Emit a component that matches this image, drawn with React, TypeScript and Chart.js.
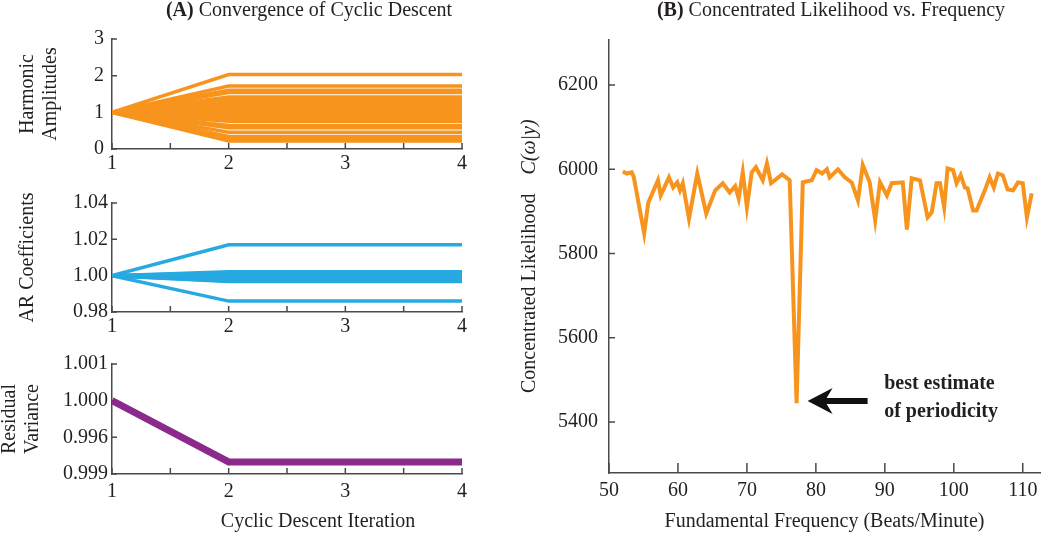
import React, { useEffect, useRef } from 'react';
import { Chart, registerables } from 'chart.js';

Chart.register(...registerables);

const W = 1050;
const H = 535;
const FONT = "'Liberation Serif', 'Times New Roman', serif";
const TEXT = '#231f20';
const AXIS = '#4a4a4a';
const ORANGE = '#f7941d';
const BLUE = '#27a9e1';
const PURPLE = '#8b2a8c';

// ---- Panel A data ----
const iterations = [1, 2, 3, 4];
const iterationTicks = [1, 2, 3, 4];
const iterationMinorTicks = [1.5, 2.5, 3.5];

const harmonicStart = 1;
const harmonicFinal = [
  2.03, 1.72, 1.6, 1.54, 1.42, 1.36, 1.3, 1.24, 1.18, 1.12, 1.06, 1.0,
  0.94, 0.88, 0.82, 0.76, 0.64, 0.58, 0.46, 0.34, 0.28, 0.22,
];
const harmonicTicks = [0, 1, 2, 3];
const harmonicTickLabels = ['0', '1', '2', '3'];

const arStart = 1;
const arFinal = [
  1.017, 1.0021, 1.0016, 1.0011, 1.0006, 1.0001, 0.9996, 0.9991, 0.9986,
  0.9981, 0.9976, 0.9971, 0.9968, 0.986,
];
const arTicks = [0.98, 1.0, 1.02, 1.04];
const arTickLabels = ['0.98', '1.00', '1.02', '1.04'];

const residualValues = [1.0, 0.99833, 0.99833, 0.99833];
const residualTicks = [0.998, 0.999, 1.0, 1.001];
const residualTickLabels = ['0.999', '0.996', '1.000', '1.001'];

// ---- Panel B data ----
const freqs = [
  52.0, 52.6, 53.3, 53.6, 55.1, 55.7, 57.1, 57.5, 58.7, 59.3, 59.9, 60.3, 60.7,
  61.6, 62.8, 64.1, 65.4, 66.5, 67.5, 68.3, 68.8, 69.4, 70.0, 70.7, 71.3, 72.3,
  72.9, 73.5, 75.1, 75.8, 76.2, 77.2, 78.1, 79.4, 80.1, 80.9, 81.6, 82.0, 83.2,
  84.2, 85.2, 86.1, 86.8, 87.8, 88.6, 89.3, 90.3, 91.0, 92.6, 93.2, 93.9, 95.1,
  96.2, 96.8, 97.5, 98.0, 98.6, 99.1, 99.9, 100.4, 101.0, 101.6, 102.0, 102.8,
  103.3, 104.5, 105.2, 105.8, 106.4, 107.1, 107.8, 108.6, 109.3, 110.0, 110.6,
  111.3,
];
const likelihood = [
  5995, 5990, 5993, 5981, 5848, 5921, 5974, 5938, 5981, 5957, 5969, 5950, 5967,
  5883, 5990, 5895, 5950, 5967, 5945, 5960, 5931, 5993, 5910, 5993, 6005, 5974,
  6014, 5967, 5988, 5979, 5974, 5445, 5969, 5974, 5998, 5990, 6000, 5981, 6000,
  5981, 5969, 5926, 6010, 5969, 5879, 5969, 5938, 5967, 5969, 5857, 5979, 5974,
  5886, 5898, 5967, 5967, 5910, 6002, 5998, 5967, 5986, 5957, 5955, 5902, 5902,
  5950, 5981, 5957, 5990, 5986, 5952, 5950, 5969, 5967, 5886, 5943,
];
const freqTicks = [50, 60, 70, 80, 90, 100, 110];
const likelihoodTicks = [5400, 5600, 5800, 6000, 6200];

// annotation (data coordinates)
const arrowTip = [78.8, 5450];
const arrowTailFreq = 87.5;
const annotationAnchor = [89.9, 5491];
const annotationLines = ['best estimate', 'of periodicity'];

const tickFont = { family: FONT, size: 20 };

function drawRuns(ctx: any, runs: { text: string; font: string }[], cx: number, cy: number) {
  let total = 0;
  for (const r of runs) {
    ctx.font = r.font;
    total += ctx.measureText(r.text).width;
  }
  let x = cx - total / 2;
  ctx.textAlign = 'left';
  for (const r of runs) {
    ctx.font = r.font;
    ctx.fillText(r.text, x, cy);
    x += ctx.measureText(r.text).width;
  }
}

function makeTickPlugin(xTicks: number[], yTicks: number[], xLen: number, yLen: number) {
  return {
    id: 'insideTicks',
    beforeDatasetsDraw(chart: any) {
      const { ctx, chartArea } = chart;
      const xs = chart.scales.x;
      const ys = chart.scales.y;
      ctx.save();
      ctx.strokeStyle = AXIS;
      ctx.lineWidth = 1.5;
      ctx.beginPath();
      for (const v of xTicks) {
        const px = xs.getPixelForValue(v);
        ctx.moveTo(px, chartArea.bottom);
        ctx.lineTo(px, chartArea.bottom - xLen);
      }
      for (const v of yTicks) {
        const py = ys.getPixelForValue(v);
        ctx.moveTo(chartArea.left, py);
        ctx.lineTo(chartArea.left + yLen, py);
      }
      ctx.stroke();
      ctx.restore();
    },
  };
}

function leftPanel(o: {
  series: number[][];
  color: string;
  width: number;
  yMin: number;
  yMax: number;
  yTicks: number[];
  yLabels: string[];
  yTitle: string | string[];
  yTitlePad: number;
  yLabelPad: number;
  top: number;
  bottom: number;
  xLabelPad: number;
  xHeight: number;
  extra?: any[];
}) {
  const padBottom = H - o.bottom - o.xHeight;
  return {
    type: 'line',
    data: {
      datasets: o.series.map((s) => ({
        data: iterations.map((it, i) => ({ x: it, y: s[i] })),
        borderColor: o.color,
        borderWidth: o.width,
        pointRadius: 0,
        tension: 0,
        fill: false,
      })),
    },
    options: {
      responsive: false,
      animation: false,
      devicePixelRatio: 1,
      events: [],
      layout: { padding: { left: 0, top: o.top, right: W - 462, bottom: padBottom } },
      plugins: { legend: { display: false }, tooltip: { enabled: false } },
      scales: {
        x: {
          type: 'linear',
          min: 1,
          max: 4,
          afterBuildTicks: (s: any) => {
            s.ticks = iterationTicks.map((v) => ({ value: v }));
          },
          afterFit: (s: any) => {
            s.height = o.xHeight;
          },
          grid: { display: false, drawTicks: false },
          border: { display: true, color: AXIS, width: 1.5 },
          ticks: {
            padding: o.xLabelPad,
            color: TEXT,
            font: tickFont,
            maxRotation: 0,
            autoSkip: false,
            callback: (v: any) => String(v),
          },
        },
        y: {
          type: 'linear',
          min: o.yMin,
          max: o.yMax,
          afterBuildTicks: (s: any) => {
            s.ticks = o.yTicks.map((v) => ({ value: v }));
          },
          afterFit: (s: any) => {
            s.width = 112;
          },
          grid: { display: false, drawTicks: false },
          border: { display: true, color: AXIS, width: 1.5 },
          ticks: {
            padding: o.yLabelPad,
            color: TEXT,
            font: tickFont,
            autoSkip: false,
            callback: (_v: any, i: number) => o.yLabels[i],
          },
          title: {
            display: true,
            text: o.yTitle,
            color: TEXT,
            font: { family: FONT, size: 20, lineHeight: 1.15 },
            padding: { top: o.yTitlePad, bottom: 0 },
          },
        },
      },
    },
    plugins: [
      makeTickPlugin([...iterationTicks, ...iterationMinorTicks], o.yTicks, 6, 5),
      ...(o.extra || []),
    ],
  };
}

const leftTitlePlugin = {
  id: 'leftTitle',
  afterDraw(chart: any) {
    const ctx = chart.ctx;
    ctx.save();
    ctx.fillStyle = TEXT;
    ctx.textBaseline = 'middle';
    drawRuns(
      ctx,
      [
        { text: '(A)', font: `bold 20px ${FONT}` },
        { text: ' Convergence of Cyclic Descent', font: `20px ${FONT}` },
      ],
      309,
      11
    );
    ctx.restore();
  },
};

const leftXTitlePlugin = {
  id: 'leftXTitle',
  afterDraw(chart: any) {
    const ctx = chart.ctx;
    ctx.save();
    ctx.fillStyle = TEXT;
    ctx.textBaseline = 'middle';
    ctx.textAlign = 'center';
    ctx.font = `20px ${FONT}`;
    ctx.fillText('Cyclic Descent Iteration', 318, 522);
    ctx.restore();
  },
};

const rightDecorPlugin = {
  id: 'rightDecor',
  afterDraw(chart: any) {
    const ctx = chart.ctx;
    const xs = chart.scales.x;
    const ys = chart.scales.y;
    ctx.save();
    ctx.fillStyle = TEXT;
    ctx.textBaseline = 'middle';
    drawRuns(
      ctx,
      [
        { text: '(B)', font: `bold 20px ${FONT}` },
        { text: ' Concentrated Likelihood vs. Frequency', font: `20px ${FONT}` },
      ],
      831,
      11
    );

    // y-axis title
    ctx.save();
    ctx.translate(530, 393);
    ctx.rotate(-Math.PI / 2);
    ctx.textAlign = 'left';
    ctx.font = `20px ${FONT}`;
    const t1 = 'Concentrated Likelihood';
    ctx.fillText(t1, 0, 0);
    const w1 = ctx.measureText(t1).width;
    ctx.font = `italic 20px ${FONT}`;
    ctx.fillText('C(\u03c9|y)', w1 + 19, 0);
    ctx.restore();

    // arrow
    const tipX = xs.getPixelForValue(arrowTip[0]);
    const tipY = ys.getPixelForValue(arrowTip[1]);
    const tailX = xs.getPixelForValue(arrowTailFreq);
    ctx.fillStyle = '#111';
    ctx.beginPath();
    ctx.moveTo(tipX, tipY);
    ctx.lineTo(tipX + 25, tipY - 13);
    ctx.lineTo(tipX + 19, tipY - 3);
    ctx.lineTo(tailX, tipY - 3);
    ctx.lineTo(tailX, tipY + 3);
    ctx.lineTo(tipX + 19, tipY + 3);
    ctx.lineTo(tipX + 25, tipY + 13);
    ctx.closePath();
    ctx.fill();

    // annotation text
    ctx.fillStyle = TEXT;
    ctx.textAlign = 'left';
    ctx.font = `bold 20px ${FONT}`;
    const ax = xs.getPixelForValue(annotationAnchor[0]);
    const ay = ys.getPixelForValue(annotationAnchor[1]);
    annotationLines.forEach((line, i) => {
      ctx.fillText(line, ax, ay + i * 28);
    });
    ctx.restore();
  },
};

function rightPanel() {
  const top = 40;
  const bottom = 473;
  const xHeight = 60;
  return {
    type: 'line',
    data: {
      datasets: [
        {
          data: freqs.map((f, i) => ({ x: f, y: likelihood[i] })),
          borderColor: ORANGE,
          borderWidth: 4,
          pointRadius: 0,
          tension: 0,
          fill: false,
        },
      ],
    },
    options: {
      responsive: false,
      animation: false,
      devicePixelRatio: 1,
      events: [],
      layout: { padding: { left: 0, top, right: W - 1040, bottom: H - bottom - xHeight } },
      plugins: { legend: { display: false }, tooltip: { enabled: false } },
      scales: {
        x: {
          type: 'linear',
          min: 50,
          max: 112.5,
          afterBuildTicks: (s: any) => {
            s.ticks = freqTicks.map((v) => ({ value: v }));
          },
          afterFit: (s: any) => {
            s.height = xHeight;
          },
          grid: { display: false, drawTicks: false },
          border: { display: true, color: AXIS, width: 1.5 },
          ticks: {
            padding: 6,
            color: TEXT,
            font: tickFont,
            maxRotation: 0,
            autoSkip: false,
            callback: (v: any) => String(v),
          },
          title: {
            display: true,
            text: 'Fundamental Frequency (Beats/Minute)',
            color: TEXT,
            font: { family: FONT, size: 20, lineHeight: 1.15 },
            padding: 0,
          },
        },
        y: {
          type: 'linear',
          min: 5279,
          max: 6307,
          afterBuildTicks: (s: any) => {
            s.ticks = likelihoodTicks.map((v) => ({ value: v }));
          },
          afterFit: (s: any) => {
            s.width = 609;
          },
          grid: { display: false, drawTicks: false },
          border: { display: true, color: AXIS, width: 1.5 },
          ticks: {
            padding: 11,
            color: TEXT,
            font: tickFont,
            autoSkip: false,
            callback: (v: any) => String(v),
          },
        },
      },
    },
    plugins: [makeTickPlugin(freqTicks, likelihoodTicks, 10, 6), rightDecorPlugin],
  };
}

export default function App() {
  const r1 = useRef<HTMLCanvasElement>(null);
  const r2 = useRef<HTMLCanvasElement>(null);
  const r3 = useRef<HTMLCanvasElement>(null);
  const r4 = useRef<HTMLCanvasElement>(null);

  useEffect(() => {
    const harmonicSeries = harmonicFinal.map((v) => [harmonicStart, v, v, v]);
    const arSeries = arFinal.map((v) => [arStart, v, v, v]);
    const charts: Chart[] = [];
    charts.push(
      new Chart(
        r1.current as HTMLCanvasElement,
        leftPanel({
          series: harmonicSeries,
          color: ORANGE,
          width: 3.5,
          yMin: 0,
          yMax: 3,
          yTicks: harmonicTicks,
          yLabels: harmonicTickLabels,
          yTitle: ['Harmonic', 'Amplitudes'],
          yTitlePad: 16,
          yLabelPad: 8,
          top: 39,
          bottom: 149,
          xLabelPad: 3,
          xHeight: 30,
          extra: [leftTitlePlugin],
        }) as any
      )
    );
    charts.push(
      new Chart(
        r2.current as HTMLCanvasElement,
        leftPanel({
          series: arSeries,
          color: BLUE,
          width: 3.5,
          yMin: 0.98,
          yMax: 1.04,
          yTicks: arTicks,
          yLabels: arTickLabels,
          yTitle: 'AR Coefficients',
          yTitlePad: 16,
          yLabelPad: 4,
          top: 203,
          bottom: 312,
          xLabelPad: 3,
          xHeight: 30,
        }) as any
      )
    );
    charts.push(
      new Chart(
        r3.current as HTMLCanvasElement,
        leftPanel({
          series: [residualValues],
          color: PURPLE,
          width: 7,
          yMin: 0.998,
          yMax: 1.001,
          yTicks: residualTicks,
          yLabels: residualTickLabels,
          yTitle: ['Residual', 'Variance'],
          yTitlePad: -2,
          yLabelPad: 4,
          top: 364,
          bottom: 474,
          xLabelPad: 6,
          xHeight: 40,
          extra: [leftXTitlePlugin],
        }) as any
      )
    );
    charts.push(new Chart(r4.current as HTMLCanvasElement, rightPanel() as any));
    return () => charts.forEach((c) => c.destroy());
  }, []);

  const cs: React.CSSProperties = { position: 'absolute', left: 0, top: 0 };
  return (
    <div style={{ position: 'absolute', left: 0, top: 0, width: W, height: H, background: '#fff' }}>
      <canvas ref={r1} width={W} height={H} style={cs} />
      <canvas ref={r2} width={W} height={H} style={cs} />
      <canvas ref={r3} width={W} height={H} style={cs} />
      <canvas ref={r4} width={W} height={H} style={cs} />
    </div>
  );
}
